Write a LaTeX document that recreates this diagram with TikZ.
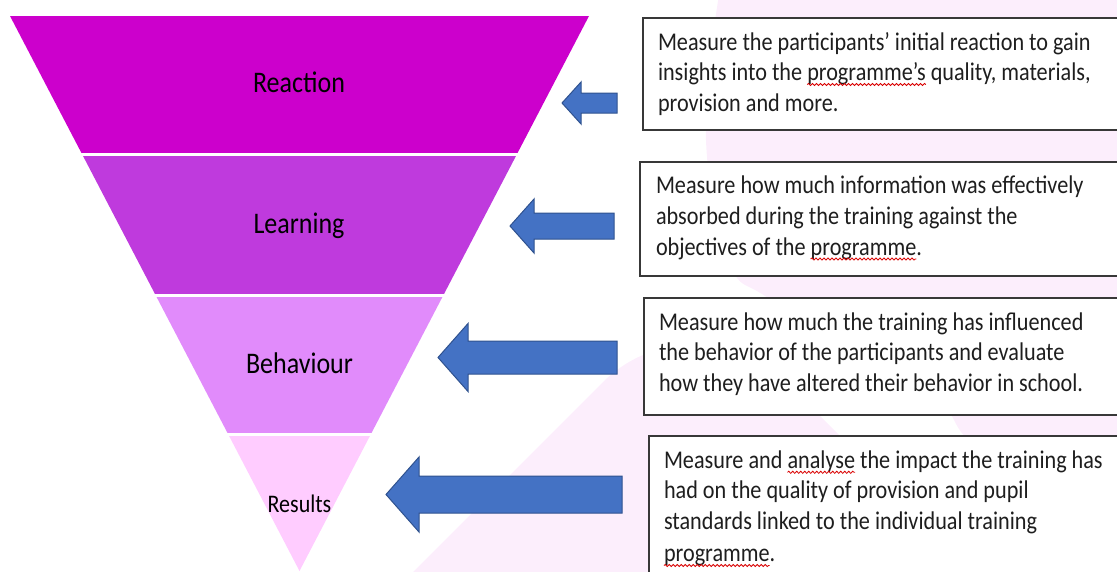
\documentclass[tikz,border=0pt]{standalone}
\usepackage{fontspec}
\setmainfont{Carlito}
\usepackage{graphicx}
\usetikzlibrary{calc,decorations.pathmorphing}
\definecolor{cReact}{RGB}{204,0,204}
\definecolor{cLearn}{RGB}{191,58,221}
\definecolor{cBehav}{RGB}{225,139,251}
\definecolor{cRes}{RGB}{255,204,255}
\definecolor{bgpink}{RGB}{252,238,252}
\definecolor{arrFill}{RGB}{68,114,196}
\definecolor{arrLine}{RGB}{47,82,143}
\definecolor{txt}{RGB}{30,30,30}
\newcommand\Tstr[1]{\scalebox{1}[1.15]{#1}}
\newcommand\boxfont{\fontsize{22.2}{30}\selectfont}
\newcommand\labfont{\fontsize{26}{30}\selectfont}
\newcommand\resfont{\fontsize{22}{30}\selectfont}
\newcommand\blockarr[6]{% tipx, tipy, headbase x, half head, half shaft, end x
  \draw[barrow] (#1,#2) -- (#3,{#2-#4}) -- (#3,{#2-#5}) -- (#6,{#2-#5})
    -- (#6,{#2+#5}) -- (#3,{#2+#5}) -- (#3,{#2+#4}) -- cycle;}
\tikzset{
  txtline/.style={anchor=base west, inner sep=0pt, outer sep=0pt, font=\boxfont, text=txt},
  lab/.style={anchor=base, inner sep=0pt, font=\labfont, text=black},
  tbox/.style={draw=black!78, line width=1.6pt, fill=white, anchor=north west, inner sep=0pt, minimum width=520pt},
  barrow/.style={fill=arrFill, draw=arrLine, line width=1pt, line join=miter},
  squig/.style={draw=red!85!black, line width=0.8pt, decorate, decoration={snake, segment length=4pt, amplitude=1.1pt}},
  sepline/.style={draw=white, line width=3pt},
}
\begin{document}
\begin{tikzpicture}[x=1pt,y=-1pt]
\useasboundingbox (0,0) rectangle (1117,571);
\clip (0,0) rectangle (1117,571);
% background decorative shapes
\fill[bgpink] plot[smooth, tension=0.6] coordinates {(719,-5) (710,60) (706,140) (716,220) (735,275) (765,296) (850,352) (940,405) (968,440) (1050,520) (1150,600)} -- (1200,600) -- (1200,-5) -- cycle;
\fill[bgpink, rounded corners=130pt] (240,745) -- (694.5,290.5) -- (1150,746) -- cycle;
% funnel
\coordinate (TL) at (10,16);
\coordinate (TR) at (589,16);
\coordinate (AP) at (299.5,571);
\fill[cReact] (TL) -- (TR) -- ($(TR)!.25!(AP)$) -- ($(TL)!.25!(AP)$) -- cycle;
\fill[cLearn] ($(TL)!.25!(AP)$) -- ($(TR)!.25!(AP)$) -- ($(TR)!.503!(AP)$) -- ($(TL)!.503!(AP)$) -- cycle;
\fill[cBehav] ($(TL)!.503!(AP)$) -- ($(TR)!.503!(AP)$) -- ($(TR)!.754!(AP)$) -- ($(TL)!.754!(AP)$) -- cycle;
\fill[cRes] ($(TL)!.754!(AP)$) -- ($(TR)!.754!(AP)$) -- (AP) -- cycle;
\draw[sepline] ($(TL)!.25!(AP)+(-4,0)$) -- ($(TR)!.25!(AP)+(4,0)$);
\draw[sepline] ($(TL)!.503!(AP)+(-4,0)$) -- ($(TR)!.503!(AP)+(4,0)$);
\draw[sepline] ($(TL)!.754!(AP)+(-4,0)$) -- ($(TR)!.754!(AP)+(4,0)$);
\node[lab] (lReact) at (299,92.7) {\Tstr{Reaction}};
\node[lab] (lLearn) at (299,233) {\Tstr{Learning}};
\node[lab] (lBehav) at (299.5,373) {\Tstr{Behaviour}};
\node[lab, font=\resfont] (lRes) at (299.5,512) {\Tstr{Results}};
% arrows
\blockarr{562}{103}{581}{21}{10}{617}
\blockarr{510}{226}{534}{27}{13}{614}
\blockarr{438}{357.5}{468}{34}{16.5}{617}
\blockarr{386}{494.5}{419}{37.5}{18.5}{622}
% boxes
\node[tbox, minimum height=112pt] (box1) at (642,17) {};
\node[tbox, minimum height=114pt] (box2) at (639,161) {};
\node[tbox, minimum height=117pt] (box3) at (643,297) {};
\node[tbox, minimum height=170pt] (box4) at (648,435) {};
% box 1 text
\node[txtline] (a1) at (658,50) {\Tstr{Measure the participants’ initial reaction to gain}};
\node[txtline] (a2a) at (658,80.5) {\Tstr{insights into the\ }};
\node[txtline] (a2b) at (a2a.base east) {\Tstr{programme’s}};
\node[txtline] (a2c) at (a2b.base east) {\Tstr{\ quality, materials,}};
\node[txtline] (a3) at (658,111) {\Tstr{provision and more.}};
\draw[squig] ([yshift=-4pt]a2b.base west) -- ([yshift=-4pt]a2b.base east);
% box 2 text
\node[txtline] (b1) at (656,193.3) {\Tstr{Measure how much information was effectively}};
\node[txtline] (b2) at (656,224) {\Tstr{absorbed during the training against the}};
\node[txtline] (b3a) at (656,255) {\Tstr{objectives of the\ }};
\node[txtline] (b3b) at (b3a.base east) {\Tstr{programme}};
\node[txtline] (b3c) at (b3b.base east) {\Tstr{.}};
\draw[squig] ([yshift=-4pt]b3b.base west) -- ([yshift=-4pt]b3b.base east);
% box 3 text
\node[txtline] (c1) at (659,330) {\Tstr{Measure how much the training has influenced}};
\node[txtline] (c2) at (659,360.5) {\Tstr{the behavior of the participants and evaluate}};
\node[txtline] (c3) at (659,391.5) {\Tstr{how they have altered their behavior in school.}};
% box 4 text
\node[txtline] (d1a) at (664,468.3) {\Tstr{Measure and\ }};
\node[txtline] (d1b) at (d1a.base east) {\Tstr{analyse}};
\node[txtline] (d1c) at (d1b.base east) {\Tstr{\ the impact the training has}};
\node[txtline] (d2) at (664,498.5) {\Tstr{had on the quality of provision and pupil}};
\node[txtline] (d3) at (664,529.3) {\Tstr{standards linked to the individual training}};
\node[txtline] (d4a) at (664,561.5) {\Tstr{programme}};
\node[txtline] (d4b) at (d4a.base east) {\Tstr{.}};
\draw[squig] ([yshift=-4pt]d1b.base west) -- ([yshift=-4pt]d1b.base east);
\draw[squig] ([yshift=-4pt]d4a.base west) -- ([yshift=-4pt]d4a.base east);
\end{tikzpicture}
\end{document}
